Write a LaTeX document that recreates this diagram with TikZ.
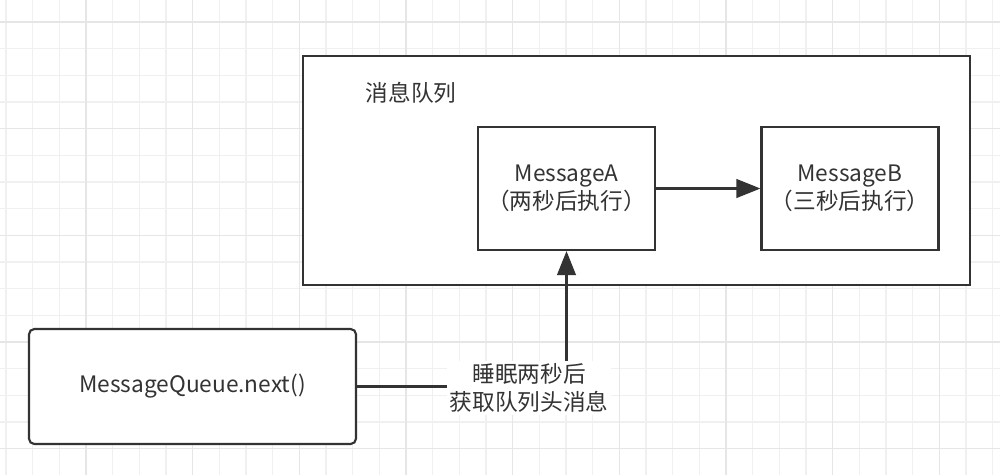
\documentclass[tikz,border=0pt]{standalone}
\usepackage{fontspec}
\setmainfont{Noto Sans CJK SC}
\usepackage{xcolor}
\usepackage{tikz}
\usetikzlibrary{arrows.meta}
\definecolor{ink}{HTML}{333333}
\definecolor{minorgrid}{HTML}{F0F0F0}
\definecolor{majorgrid}{HTML}{E6E6E6}
\tikzset{
  msgbox/.style={draw=ink, line width=1.6pt, fill=white, align=center,
    minimum width=132.75pt, minimum height=92.25pt, text=ink},
  flow/.style={draw=ink, line width=1.6pt, -{Triangle[length=18pt, width=14pt]}},
  plain/.style={draw=ink, line width=1.6pt},
}

\begin{document}
\begin{tikzpicture}[x=0.75pt, y=-0.75pt, font=\fontsize{17}{21}\selectfont]
    \useasboundingbox (0,0) rectangle (1000,475);
    \fill[white] (0,0) rectangle (1000,475);
    % background grid
    \foreach \i in {0,...,37} {
      \draw[minorgrid, line width=0.8pt] ({6+26.667*\i},0) -- ({6+26.667*\i},475);
    }
    \foreach \j in {0,...,18} {
      \draw[minorgrid, line width=0.8pt] (0,{-4.667+26.667*\j}) -- (1000,{-4.667+26.667*\j});
    }
    \foreach \i in {0,...,9} {
      \draw[majorgrid, line width=1.2pt] ({86+106.667*\i-106.667},0) -- ({86+106.667*\i-106.667},475);
    }
    \foreach \j in {0,...,4} {
      \draw[majorgrid, line width=1.2pt] (0,{22+106.667*\j}) -- (1000,{22+106.667*\j});
    }

    \node[draw=ink, line width=1.6pt, fill=white, minimum width=500.25pt,
      minimum height=171.75pt] (queue) at (636.5,170.5) {};
    \node[text=ink] (title) at (411,93) {消息队列};
    \node[msgbox] (msgA) at (566.5,188.5) {MessageA\\（两秒后执行）};
    \node[msgbox] (msgB) at (850,188.5) {MessageB\\（三秒后执行）};
    \node[draw=ink, line width=1.6pt, fill=white, rounded corners=4pt,
      minimum width=245.25pt, minimum height=86.25pt, text=ink] (next) at (192.5,386.5) {MessageQueue.next()};
    \node[fill=white, align=center, text=ink, inner sep=2pt] (wait) at (529,388) {睡眠两秒后\\获取队列头消息};

    \draw[flow] (msgA) -- (msgB);
    \draw[plain] (next.east) -- (next.east -| wait.west);
    \draw[flow] (wait.north -| msgA.south) -- (msgA.south);
\end{tikzpicture}
\end{document}
